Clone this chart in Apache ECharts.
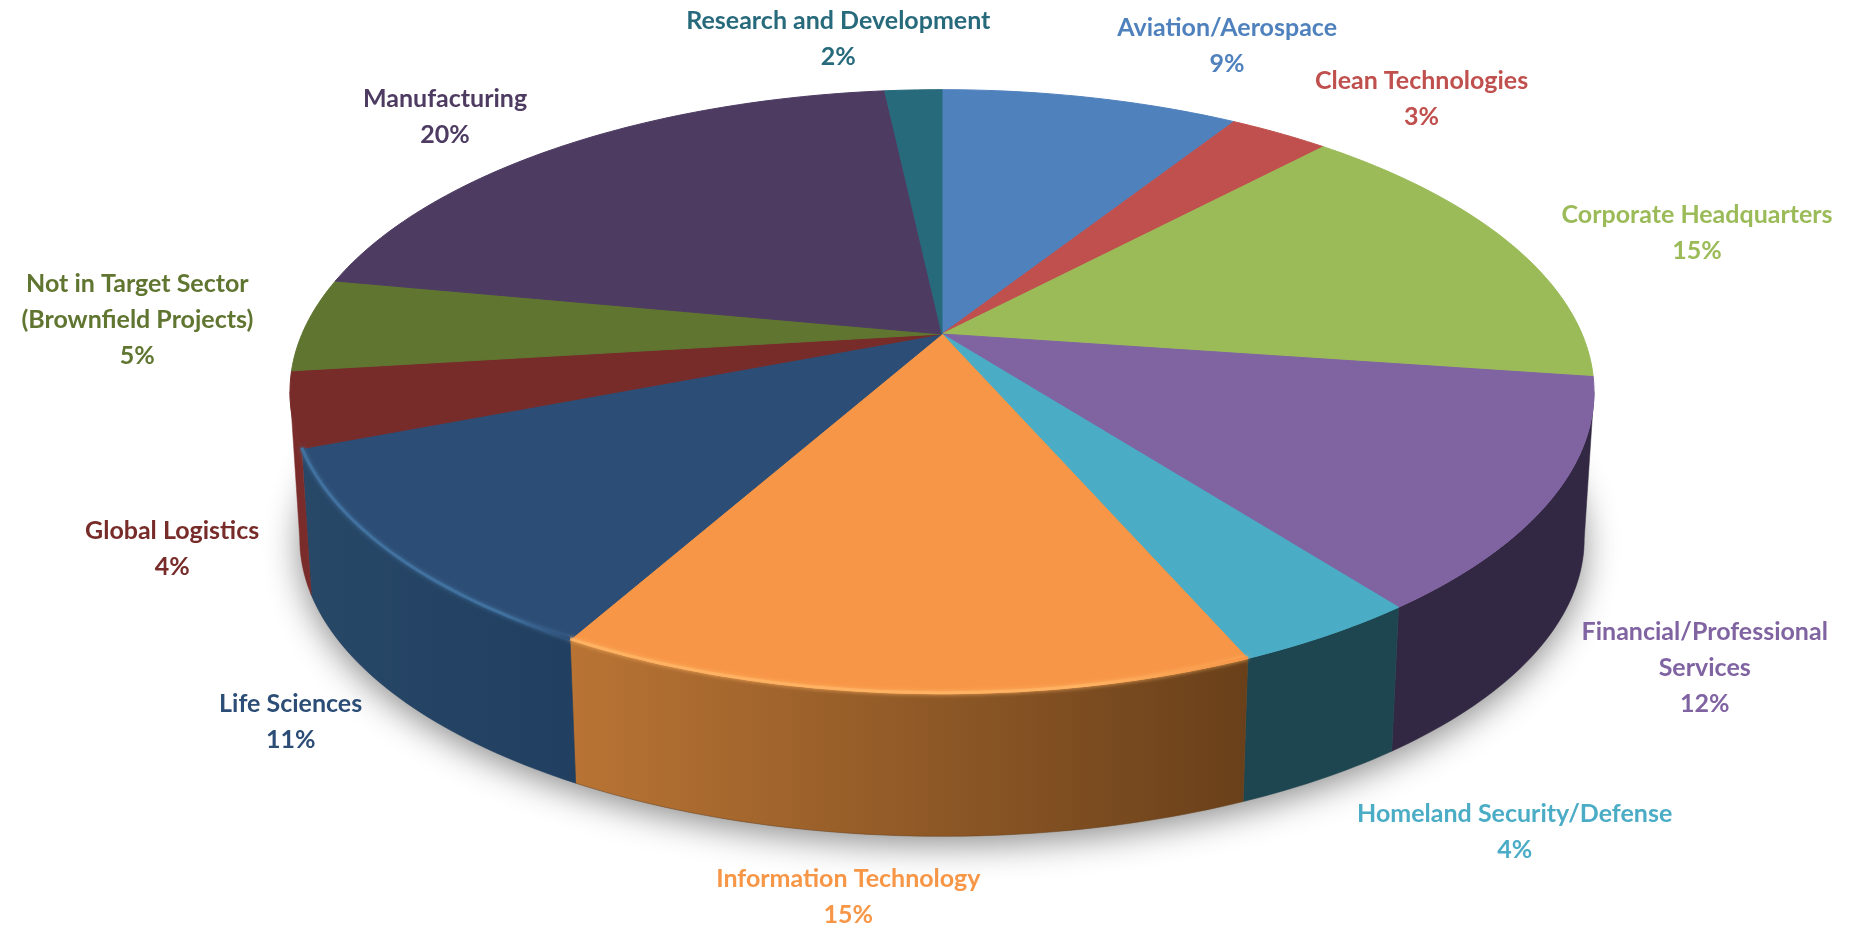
<!DOCTYPE html>
<html>
<head>
<meta charset="utf-8">
<title>Target sectors</title>
<style>
  html, body { margin: 0; padding: 0; background: #fff; }
  #main { width: 1868px; height: 929px; }
</style>
<script src="https://cdn.jsdelivr.net/npm/echarts@6/dist/echarts.min.js"></script>
</head>
<body>
<div id="main"></div>
<script>
const categories = [
  'Aviation/Aerospace', 'Clean Technologies', 'Corporate Headquarters',
  'Financial/Professional\nServices', 'Homeland Security/Defense',
  'Information Technology', 'Life Sciences', 'Global Logistics',
  'Not in Target Sector\n(Brownfield Projects)', 'Manufacturing',
  'Research and Development'
];
// shares, the printed label is the rounded value
const shares = [8.9, 3, 15.4, 12.4, 3.9, 14.5, 11, 4, 5, 20.3, 1.7];

const topColors = ['#4f81bd', '#c0504d', '#9bbb59', '#8064a2', '#4bacc6', '#f79646',
  '#2c4d75', '#772c2a', '#5f7530', '#4d3b62', '#276a7c'];
const wallLeft = ['#2f4d71', '#73302e', '#5d7035', '#332843', '#1e4650', '#b97434',
  '#284868', '#7a2c2a', '#394619', '#2e233b', '#17404a'];
const wallRight = ['#2f4d71', '#73302e', '#5d7035', '#332843', '#1e4650', '#69401a',
  '#213f60', '#7a2c2a', '#394619', '#2e233b', '#17404a'];
const rimColors = [null, null, null, null, null, '#ffb262', '#41719f', null, null, null, null];

// camera: the pie is a circle seen in perspective, so the hub sits above the middle of the ellipse
const cam = { cx: 942, cy: 334, a: 640, b: 291, k: 0.191, depth: 148, bottomScale: 0.985 };
const wallFrom = Math.acos(-cam.k) * 180 / Math.PI;
const wallTo = 360 - wallFrom;

// label block centre, relative to the rim at the slice's middle
const labelOffsets = [[136, -52], [142, -34], [188, -10], [152, 170], [187, 197], [-54, 204],
  [-101, 168], [-119, 140], [-169, -5], [-117, -29], [-75, -51]];

const total = shares.reduce((a, b) => a + b, 0);
let sum = 0;
const sliceRows = shares.map((v, i) => {
  const start = sum / total * 360;
  sum += v;
  return [i, start, sum / total * 360];
});

function project(deg, r, bottom) {
  const t = deg * Math.PI / 180;
  const u = r * Math.sin(t);
  const v = r * Math.cos(t);
  const w = 1 + cam.k * v;
  const s = bottom ? cam.bottomScale : 1;
  return [cam.cx + s * cam.a * u / w, cam.cy + (bottom ? cam.depth : 0) - s * cam.b * v / w];
}

function arc(from, to, bottom) {
  const pts = [];
  const n = Math.max(2, Math.ceil(Math.abs(to - from)));
  for (let j = 0; j <= n; j++) {
    pts.push(project(from + (to - from) * j / n, 1, bottom));
  }
  return pts;
}

function renderShadow() {
  return {
    type: 'polygon',
    shape: { points: arc(0, 360, true) },
    style: { fill: '#999', shadowBlur: 34, shadowColor: 'rgba(0,0,0,0.45)', shadowOffsetY: 8 }
  };
}

function renderWall(params, api) {
  const i = api.value(0);
  const from = Math.max(api.value(1), wallFrom);
  const to = Math.min(api.value(2), wallTo);
  if (to <= from) return null;
  const pts = arc(from, to, false).concat(arc(to, from, true));
  return {
    type: 'polygon',
    shape: { points: pts },
    style: {
      fill: new echarts.graphic.LinearGradient(0, 0, 1, 0, [
        { offset: 0, color: wallLeft[i] },
        { offset: 1, color: wallRight[i] }
      ]),
      stroke: wallRight[i],
      lineWidth: 0.5
    }
  };
}

function renderTop(params, api) {
  const i = api.value(0);
  const from = api.value(1);
  const to = api.value(2);
  return {
    type: 'polygon',
    shape: { points: [[cam.cx, cam.cy]].concat(arc(from, to, false)) },
    style: { fill: topColors[i], stroke: topColors[i], lineWidth: 1 }
  };
}

function renderRim(params, api) {
  const i = api.value(0);
  if (!rimColors[i]) return null;
  const from = Math.max(api.value(1), wallFrom);
  const to = Math.min(api.value(2), wallTo);
  return {
    type: 'polyline',
    shape: { points: arc(from, to, false).map(p => [p[0], p[1] - 1]) },
    style: {
      fill: null,
      lineWidth: 3,
      stroke: new echarts.graphic.LinearGradient(0, 0, 1, 0, [
        { offset: 0, color: rimColors[i] },
        { offset: 0.75, color: rimColors[i] },
        { offset: 1, color: topColors[i] }
      ]),
      shadowBlur: 4,
      shadowColor: rimColors[i]
    }
  };
}

function renderLabel(params, api) {
  const i = api.value(0);
  const rim = project((api.value(1) + api.value(2)) / 2, 1, false);
  return {
    type: 'text',
    x: rim[0] + labelOffsets[i][0],
    y: rim[1] + labelOffsets[i][1],
    style: {
      text: categories[i] + '\n' + Math.round(shares[i]) + '%',
      fill: topColors[i],
      font: 'bold 25px Lato',
      lineHeight: 36,
      align: 'center',
      verticalAlign: 'middle'
    }
  };
}

const layer = (renderItem, z) => ({
  type: 'custom',
  coordinateSystem: 'none',
  data: sliceRows,
  renderItem,
  z,
  silent: true,
  animation: false
});

const myChart = echarts.init(document.getElementById('main'));
myChart.setOption({
  backgroundColor: '#ffffff',
  animation: false,
  series: [
    { ...layer(renderShadow, 1), data: [[0]] },
    layer(renderWall, 2),
    layer(renderTop, 3),
    layer(renderRim, 4),
    layer(renderLabel, 5)
  ]
});
</script>
</body>
</html>
